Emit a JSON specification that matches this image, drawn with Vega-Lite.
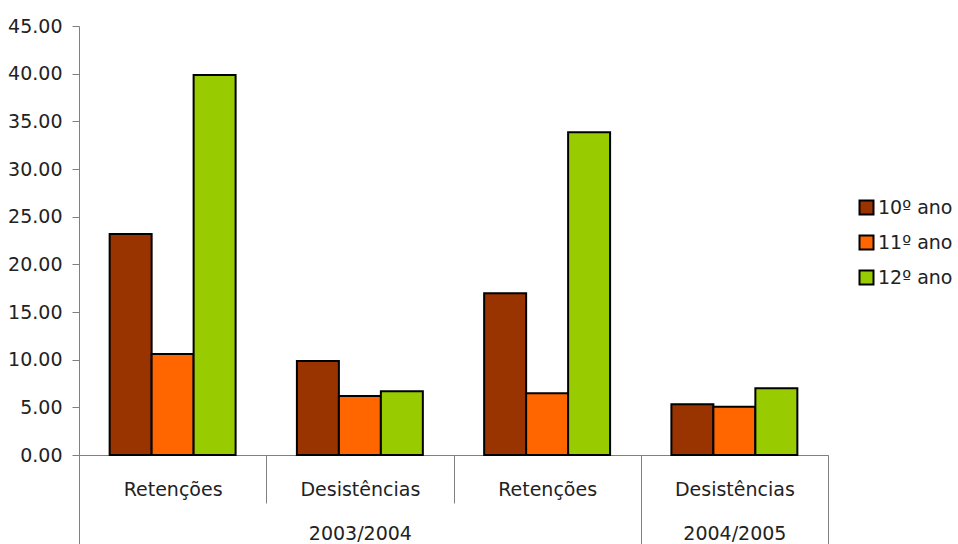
{
  "$schema": "https://vega.github.io/schema/vega-lite/v6.json",
  "width": 749,
  "height": 429,
  "autosize": "none",
  "padding": {"left": 79, "top": 26, "right": 130, "bottom": 89},
  "background": "white",
  "config": {
    "view": {"stroke": null},
    "font": "DejaVu Sans",
    "axis": {
      "labelFont": "DejaVu Sans",
      "labelFontSize": 19,
      "labelColor": "#222222",
      "domainColor": "#808080",
      "tickColor": "#808080",
      "grid": false
    }
  },
  "data": {
    "values": [
      {"grupo": "Retenções 2003/2004", "periodo": "2003/2004", "indicador": "Retenções", "ano": "10º ano", "valor": 23.18},
      {"grupo": "Retenções 2003/2004", "periodo": "2003/2004", "indicador": "Retenções", "ano": "11º ano", "valor": 10.6},
      {"grupo": "Retenções 2003/2004", "periodo": "2003/2004", "indicador": "Retenções", "ano": "12º ano", "valor": 39.86},
      {"grupo": "Desistências 2003/2004", "periodo": "2003/2004", "indicador": "Desistências", "ano": "10º ano", "valor": 9.86},
      {"grupo": "Desistências 2003/2004", "periodo": "2003/2004", "indicador": "Desistências", "ano": "11º ano", "valor": 6.19},
      {"grupo": "Desistências 2003/2004", "periodo": "2003/2004", "indicador": "Desistências", "ano": "12º ano", "valor": 6.68},
      {"grupo": "Retenções 2004/2005", "periodo": "2004/2005", "indicador": "Retenções", "ano": "10º ano", "valor": 16.96},
      {"grupo": "Retenções 2004/2005", "periodo": "2004/2005", "indicador": "Retenções", "ano": "11º ano", "valor": 6.47},
      {"grupo": "Retenções 2004/2005", "periodo": "2004/2005", "indicador": "Retenções", "ano": "12º ano", "valor": 33.85},
      {"grupo": "Desistências 2004/2005", "periodo": "2004/2005", "indicador": "Desistências", "ano": "10º ano", "valor": 5.32},
      {"grupo": "Desistências 2004/2005", "periodo": "2004/2005", "indicador": "Desistências", "ano": "11º ano", "valor": 5.07},
      {"grupo": "Desistências 2004/2005", "periodo": "2004/2005", "indicador": "Desistências", "ano": "12º ano", "valor": 7.0}
    ]
  },
  "layer": [
    {
      "mark": {"type": "bar", "stroke": "black", "strokeWidth": 2},
      "encoding": {
        "x": {
          "field": "grupo", "type": "nominal", "sort": null,
          "scale": {"paddingInner": 0, "paddingOuter": 0},
          "axis": {
            "orient": "bottom", "title": null, "labelAngle": 0,
            "tickBand": "extent", "tickSize": 48, "labelPadding": -23,
            "labelBaseline": "top",
            "labelExpr": "split(datum.label, ' ')[0]"
          }
        },
        "xOffset": {
          "field": "ano", "type": "nominal",
          "scale": {"paddingInner": 0, "paddingOuter": 0.73}
        },
        "y": {
          "field": "valor", "type": "quantitative",
          "scale": {"domain": [0, 45], "nice": false},
          "axis": {
            "title": null,
            "values": [0, 5, 10, 15, 20, 25, 30, 35, 40, 45],
            "format": ".2f", "tickSize": 7, "labelPadding": 10
          }
        },
        "color": {
          "field": "ano", "type": "nominal",
          "scale": {"domain": ["10º ano", "11º ano", "12º ano"], "range": ["#993300", "#FF6600", "#99CC00"]},
          "legend": {
            "title": null, "orient": "none", "legendX": 778, "legendY": 172,
            "symbolType": "square", "symbolSize": 196,
            "symbolStrokeColor": "black", "symbolStrokeWidth": 2, "symbolOpacity": 1,
            "labelFont": "DejaVu Sans", "labelFontSize": 19, "labelColor": "#222222",
            "rowPadding": 12, "labelOffset": 2
          }
        }
      }
    },
    {
      "mark": {"type": "point", "opacity": 0},
      "encoding": {
        "x": {
          "field": "grupo", "type": "nominal", "sort": null,
          "scale": {"paddingInner": 0, "paddingOuter": 0},
          "axis": {
            "orient": "bottom", "title": null, "labelAngle": 0, "domain": false,
            "tickBand": "extent", "tickSize": 89, "labelPadding": -20,
            "labelBaseline": "top",
            "labelExpr": "datum.label == 'Desistências 2003/2004' ? '2003/2004' : (datum.label == 'Desistências 2004/2005' ? '2004/2005' : '')",
            "tickOpacity": {
              "condition": {"test": "datum.index < 0 || datum.value == 'Retenções 2004/2005' || datum.value == 'Desistências 2004/2005'", "value": 1},
              "value": 0
            }
          }
        },
        "xOffset": {"field": "ano", "type": "nominal"},
        "y": {
          "field": "valor", "type": "quantitative",
          "axis": {
            "title": null,
            "values": [0, 5, 10, 15, 20, 25, 30, 35, 40, 45],
            "format": ".2f", "tickSize": 7, "labelPadding": 10
          }
        }
      }
    }
  ],
  "resolve": {"axis": {"x": "independent"}}
}
